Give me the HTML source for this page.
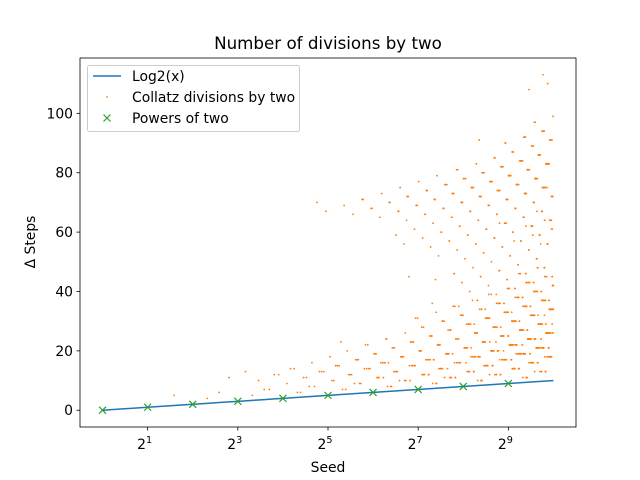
<!DOCTYPE html>
<html><head><meta charset="utf-8"><style>
body{margin:0;background:#fff;}
svg{display:block;font-family:"DejaVu Sans","Liberation Sans",sans-serif;}
</style></head><body>
<svg id="chart" width="640" height="480" viewBox="0 0 640 480"></svg>
<script>
// Data
const seedCount = 1023;
const powerExponents = [0,1,2,3,4,5,6,7,8,9];
const xTickExponents = [1,3,5,7,9];
const yTicks = [0,20,40,60,80,100];
const seeds = [];
const collatzDivisions = [];
for (let n = 1; n <= seedCount; n++) {
  let v = n, c = 0;
  while (v !== 1) { if (v % 2 === 0) { v = v / 2; c++; } else { v = 3 * v + 1; } }
  seeds.push(n); collatzDivisions.push(c);
}
const lineSeeds = seeds;
const lineValues = seeds.map(s => Math.log2(s));

const L = 80, R = 576, T = 58, B = 427;
const xMin = -0.5, xMax = 10.5, yMin = -5.65, yMax = 118.65;
const X = s => L + (Math.log2(s) - xMin) / (xMax - xMin) * (R - L);
const Y = v => B - (v - yMin) / (yMax - yMin) * (B - T);
const NS = "http://www.w3.org/2000/svg";
const svg = document.getElementById('chart');
function mk(tag, attrs, parent) {
  const e = document.createElementNS(NS, tag);
  for (const k in attrs) e.setAttribute(k, attrs[k]);
  (parent || svg).appendChild(e);
  return e;
}

// title
const title = mk('text', {x: 328, y: 49, 'text-anchor': 'middle', 'font-size': 16.7, fill: '#000'});
title.textContent = 'Number of divisions by two';



// points
const pts = mk('g', {});


seeds.forEach((s, i) => {
  const c = mk('circle', {cx: X(s), cy: Y(collatzDivisions[i]), r: 0.9, fill: '#ff7f0e'}, pts);
  
  
});

// line
const d = lineSeeds.map((s, i) => (i ? 'L' : 'M') + X(s).toFixed(2) + ' ' + Y(lineValues[i]).toFixed(2)).join(' ');
const line = mk('path', {d: d, stroke: '#1f77b4', 'stroke-width': 1.5, fill: 'none'});



// powers of two
const pw = mk('g', {stroke: '#2ca02c', 'stroke-width': 1.2});


powerExponents.forEach(e => {
  const s = Math.pow(2, e), cx = X(s), cy = Y(e);
  const m = mk('path', {d: `M${cx-3.5} ${cy-3.5}L${cx+3.5} ${cy+3.5}M${cx-3.5} ${cy+3.5}L${cx+3.5} ${cy-3.5}`}, pw);
  
  
});

// axes frame
const frame = mk('rect', {x: L, y: T, width: R - L, height: B - T, fill: 'none', stroke: '#000', 'stroke-width': 0.8});



// x ticks
xTickExponents.forEach(e => {
  const x = L + (e - xMin) / (xMax - xMin) * (R - L);
  const t = mk('line', {x1: x, x2: x, y1: B, y2: B + 3.5, stroke: '#000', 'stroke-width': 0.8});
  
  
  const lb = mk('text', {x: x - 3, y: B + 22, 'text-anchor': 'middle', 'font-size': 13.9});
  lb.textContent = '2';
  
  
  const sup = mk('tspan', {dy: -6, 'font-size': 9.7}, lb);
  sup.textContent = String(e);
});
// y ticks
yTicks.forEach(v => {
  const y = Y(v);
  const t = mk('line', {x1: L - 3.5, x2: L, y1: y, y2: y, stroke: '#000', 'stroke-width': 0.8});
  
  
  const lb = mk('text', {x: L - 7, y: y + 5, 'text-anchor': 'end', 'font-size': 13.9});
  lb.textContent = String(v);
  
  
});

const xl = mk('text', {x: 328, y: 472, 'text-anchor': 'middle', 'font-size': 13.9});
xl.textContent = 'Seed';


const yl = mk('text', {x: 35, y: 242, 'text-anchor': 'middle', 'font-size': 13.9, transform: 'rotate(-90 35 242)'});
yl.textContent = 'Δ Steps';



// legend
const lg = mk('g', {});


mk('rect', {x: 87.5, y: 65.5, width: 212, height: 66, rx: 2, fill: '#fff', 'fill-opacity': 0.8, stroke: '#ccc'}, lg);
const e1 = mk('line', {x1: 93, x2: 121, y1: 76, y2: 76, stroke: '#1f77b4', 'stroke-width': 1.5}, lg);


mk('circle', {cx: 107, cy: 97, r: 0.9, fill: '#ff7f0e'}, lg);
mk('path', {d: 'M103.5 114.5L110.5 121.5M103.5 121.5L110.5 114.5', stroke: '#2ca02c', 'stroke-width': 1.2}, lg);
[['Log2(x)', 81], ['Collatz divisions by two', 102], ['Powers of two', 123]].forEach(([txt, y]) => {
  const t = mk('text', {x: 132, y: y, 'font-size': 13.9}, lg);
  t.textContent = txt;
  
  
});
</script>
</body></html>
